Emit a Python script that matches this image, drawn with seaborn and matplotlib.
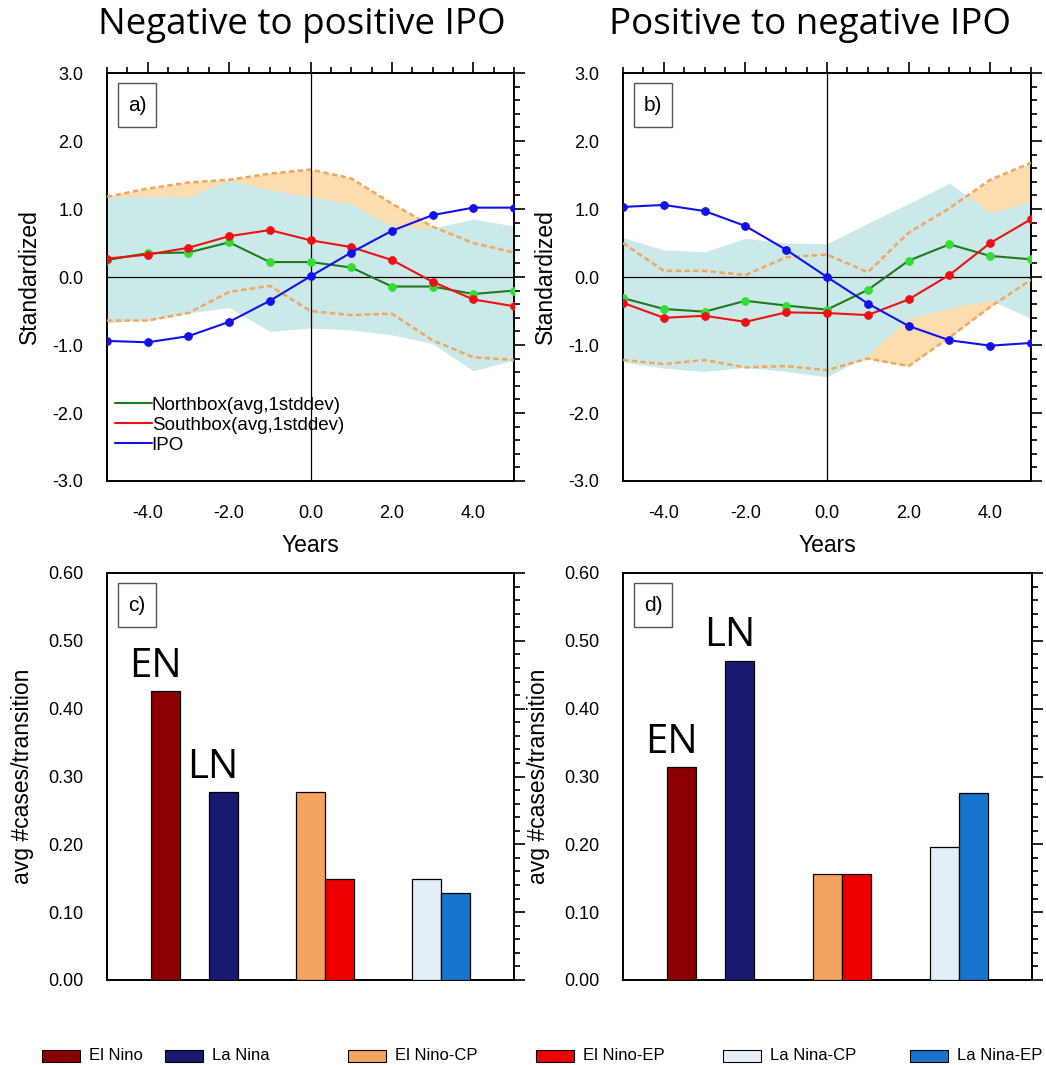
import numpy as np
import pandas as pd
import matplotlib
matplotlib.use("Agg")
import matplotlib.pyplot as plt
import seaborn as sns
from matplotlib.patches import Rectangle
from matplotlib.lines import Line2D
from matplotlib.ticker import MultipleLocator, FormatStrFormatter

# ---------------- data ----------------
years = [-5, -4, -3, -2, -1, 0, 1, 2, 3, 4, 5]

# panel a) negative -> positive IPO
a_north = [0.25, 0.35, 0.36, 0.51, 0.22, 0.22, 0.14, -0.14, -0.14, -0.25, -0.20]
a_south = [0.27, 0.33, 0.43, 0.60, 0.69, 0.54, 0.44, 0.25, -0.07, -0.33, -0.43]
a_ipo = [-0.94, -0.96, -0.87, -0.66, -0.35, 0.01, 0.36, 0.68, 0.91, 1.02, 1.02]
a_north_hi = [1.17, 1.19, 1.17, 1.43, 1.28, 1.18, 1.08, 0.74, 0.72, 0.85, 0.75]
a_north_lo = [-0.68, -0.61, -0.53, -0.45, -0.80, -0.75, -0.78, -0.85, -0.98, -1.38, -1.22]
a_south_hi = [1.18, 1.30, 1.39, 1.43, 1.52, 1.58, 1.45, 1.08, 0.74, 0.50, 0.36]
a_south_lo = [-0.64, -0.64, -0.53, -0.22, -0.13, -0.50, -0.56, -0.54, -0.93, -1.18, -1.22]

# panel b) positive -> negative IPO
b_north = [-0.31, -0.47, -0.51, -0.35, -0.42, -0.48, -0.19, 0.24, 0.48, 0.31, 0.26]
b_south = [-0.38, -0.60, -0.57, -0.66, -0.52, -0.53, -0.56, -0.33, 0.03, 0.50, 0.85]
b_ipo = [1.03, 1.06, 0.97, 0.75, 0.40, 0.00, -0.39, -0.72, -0.93, -1.01, -0.97]
b_north_hi = [0.58, 0.40, 0.37, 0.57, 0.50, 0.49, 0.79, 1.08, 1.38, 0.94, 1.12]
b_north_lo = [-1.25, -1.34, -1.39, -1.33, -1.39, -1.47, -1.15, -0.61, -0.46, -0.34, -0.61]
b_south_hi = [0.50, 0.09, 0.09, 0.03, 0.29, 0.33, 0.07, 0.65, 1.01, 1.43, 1.68]
b_south_lo = [-1.22, -1.28, -1.22, -1.33, -1.31, -1.37, -1.20, -1.31, -0.89, -0.44, -0.04]

# panels c) and d) bar charts
bar_names = ["El Nino", "La Nina", "El Nino-CP", "El Nino-EP", "La Nina-CP", "La Nina-EP"]
bar_pos = [2, 4, 7, 8, 11, 12]
c_vals = [0.426, 0.277, 0.277, 0.149, 0.149, 0.128]
d_vals = [0.314, 0.471, 0.157, 0.157, 0.196, 0.275]
bar_colors = ["#8b0000", "#191970", "#f4a460", "#ee0000", "#e4eef9", "#1874cd"]

# ---------------- style ----------------
W, H = 1046, 1065
TITLE_FONT = "Open Sans"
sns.set_style("white")
plt.rcParams["font.family"] = ["Liberation Sans", "DejaVu Sans"]
plt.rcParams["text.color"] = "black"
plt.rcParams["axes.labelcolor"] = "black"
plt.rcParams["xtick.color"] = "black"
plt.rcParams["ytick.color"] = "black"

c_north, c_north_mk = "#1f7a1f", "#33dd33"
c_south = "#ee1111"
c_ipo = "#1111ee"
c_cyan = "#cbe9e9"
c_orange_fill = "#fddcae"
c_orange_line = "#f2a65e"

fig = plt.figure(figsize=(W / 100, H / 100), dpi=100)


def px_axes(left, top, width, height):
    return fig.add_axes([left / W, 1 - (top + height) / H, width / W, height / H])


def style_axes(ax):
    for s in ax.spines.values():
        s.set_linewidth(1.4)
        s.set_color("black")
    ax.tick_params(which="both", direction="out", top=True, right=True,
                   labeltop=False, labelright=False, width=1.2, pad=9,
                   labelsize=13, colors="black")
    ax.tick_params(which="major", length=8)
    ax.tick_params(which="minor", length=4)


def panel_tag(ax, tag):
    ax.add_patch(Rectangle((0.027, 0.868), 0.093, 0.107, transform=ax.transAxes,
                           fc="white", ec="#555555", lw=1.0, zorder=6))
    ax.text(0.0735, 0.921, tag, transform=ax.transAxes, ha="center", va="center",
            fontsize=15, zorder=7)


def line_panel(ax, north, south, ipo, n_hi, n_lo, s_hi, s_lo, tag, legend=False):
    ax.fill_between(years, s_lo, s_hi, color=c_orange_fill, lw=0, zorder=1)
    ax.fill_between(years, n_lo, n_hi, color=c_cyan, lw=0, zorder=2)
    ax.plot(years, s_hi, color=c_orange_line, lw=1.8, ls=(0, (2.2, 1.3)), zorder=3)
    ax.plot(years, s_lo, color=c_orange_line, lw=1.8, ls=(0, (2.2, 1.3)), zorder=3)
    ax.axhline(0, color="black", lw=0.9, zorder=3)
    ax.axvline(0, color="black", lw=0.9, zorder=3)
    df = pd.DataFrame({"year": years, "north": north, "south": south, "ipo": ipo})
    sns.lineplot(data=df, x="year", y="north", color=c_north, lw=1.5, marker="o",
                 markersize=5.5, markerfacecolor=c_north_mk, markeredgecolor=c_north_mk,
                 ax=ax, zorder=5)
    sns.lineplot(data=df, x="year", y="south", color=c_south, lw=1.5, marker="o",
                 markersize=5.5, markeredgecolor=c_south, ax=ax, zorder=5)
    sns.lineplot(data=df, x="year", y="ipo", color=c_ipo, lw=1.5, marker="o",
                 markersize=5.5, markeredgecolor=c_ipo, ax=ax, zorder=5)
    ax.set_xlim(-5, 5)
    ax.set_ylim(-3, 3)
    ax.xaxis.set_major_locator(MultipleLocator(2))
    ax.xaxis.set_minor_locator(MultipleLocator(0.5))
    ax.yaxis.set_major_locator(MultipleLocator(1))
    ax.yaxis.set_minor_locator(MultipleLocator(0.2))
    ax.xaxis.set_major_formatter(FormatStrFormatter("%.1f"))
    ax.yaxis.set_major_formatter(FormatStrFormatter("%.1f"))
    ax.set_xticks([-4, -2, 0, 2, 4])
    style_axes(ax)
    ax.set_xlabel("Years", fontsize=16.5, labelpad=9)
    ax.set_ylabel("Standardized", fontsize=16.5, labelpad=8)
    panel_tag(ax, tag)
    if legend:
        handles = [Line2D([], [], color=c_north, lw=1.5),
                   Line2D([], [], color=c_south, lw=1.5),
                   Line2D([], [], color=c_ipo, lw=1.5)]
        labels = ["Northbox(avg,1stddev)", "Southbox(avg,1stddev)", "IPO"]
        ax.legend(handles, labels, loc="upper left", bbox_to_anchor=(0.02, 0.207),
                  frameon=False, fontsize=13.5, handlelength=1.95, handletextpad=0.0,
                  labelspacing=0.15, borderpad=0, borderaxespad=0)


def bar_panel(ax, vals, tag, notes):
    df = pd.DataFrame({"pos": bar_pos, "val": vals, "name": bar_names})
    sns.barplot(data=df, x="pos", y="val", hue="name", hue_order=bar_names,
                palette=dict(zip(bar_names, bar_colors)), native_scale=True,
                dodge=False, width=1.0, saturation=1, edgecolor="black",
                linewidth=0.9, legend=False, ax=ax, zorder=3)
    ax.set_xlim(0, 14)
    ax.set_ylim(0, 0.6)
    ax.set_xticks([])
    ax.yaxis.set_major_locator(MultipleLocator(0.1))
    ax.yaxis.set_minor_locator(MultipleLocator(0.02))
    ax.yaxis.set_major_formatter(FormatStrFormatter("%.2f"))
    style_axes(ax)
    ax.tick_params(axis="x", which="both", top=False, bottom=False)
    ax.set_xlabel("")
    ax.set_ylabel("avg #cases/transition", fontsize=16.5, labelpad=10)
    panel_tag(ax, tag)
    for i, txt in notes:
        ax.text(bar_pos[i] - 0.35, vals[i] + 0.006, txt, ha="center", va="bottom",
                fontsize=29, family=TITLE_FONT, color="black", zorder=6)


ax_a = px_axes(107, 73, 407, 408)
ax_b = px_axes(623, 73, 408, 408)
ax_c = px_axes(107, 573, 407, 407)
ax_d = px_axes(623, 573, 409, 407)

line_panel(ax_a, a_north, a_south, a_ipo, a_north_hi, a_north_lo, a_south_hi, a_south_lo,
           "a)", legend=True)
line_panel(ax_b, b_north, b_south, b_ipo, b_north_hi, b_north_lo, b_south_hi, b_south_lo,
           "b)")
bar_panel(ax_c, c_vals, "c)", [(0, "EN"), (1, "LN")])
bar_panel(ax_d, d_vals, "d)", [(0, "EN"), (1, "LN")])

# column titles
fig.text(302 / W, 1 - 25 / H, "Negative to positive IPO", ha="center", va="center",
         fontsize=26.5, family=TITLE_FONT, color="black")
fig.text(810 / W, 1 - 25 / H, "Positive to negative IPO", ha="center", va="center",
         fontsize=26.5, family=TITLE_FONT, color="black")

# bottom legend for the bars
leg_x = [42, 165, 348, 536, 723, 910]
for x0, name, col in zip(leg_x, bar_names, bar_colors):
    fig.add_artist(Rectangle((x0 / W, 1 - 1062 / H), 38 / W, 12 / H,
                             transform=fig.transFigure, fc=col, ec="black", lw=0.8))
    fig.text((x0 + 47) / W, 1 - 1056 / H, name, ha="left", va="center", fontsize=12)

fig.savefig("out.png", dpi=100)
